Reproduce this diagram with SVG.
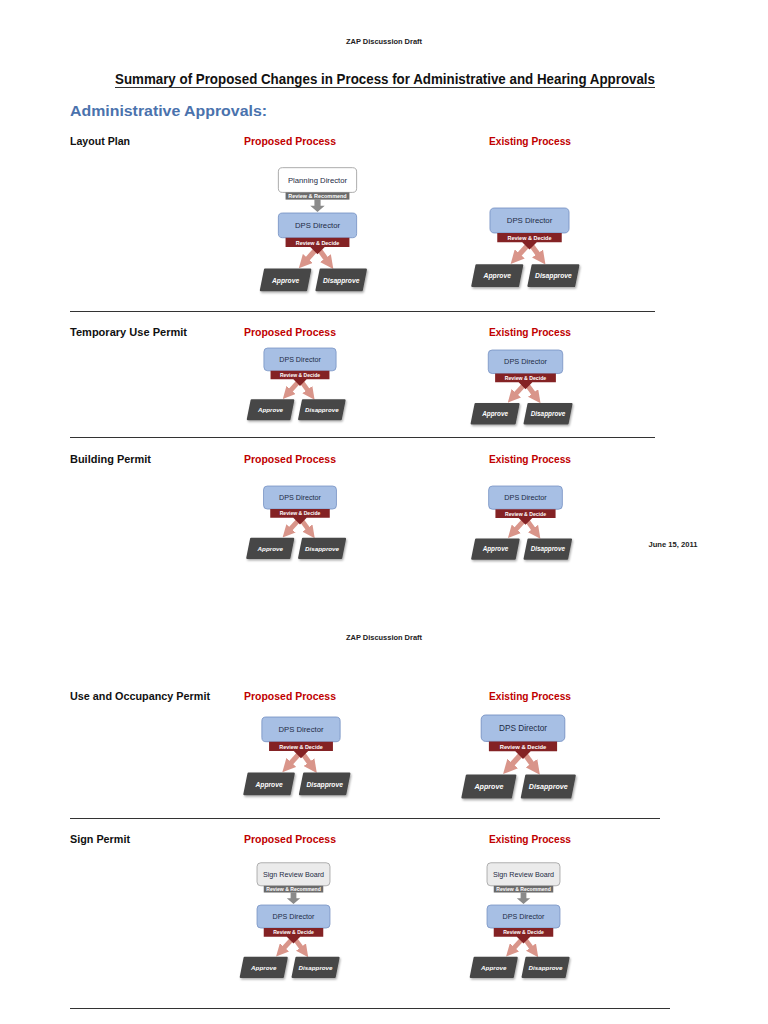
<svg xmlns="http://www.w3.org/2000/svg" width="768" height="1024" viewBox="0 0 768 1024">
<style>
.pg{font-family:"Liberation Sans",Arial,sans-serif}
.hdr{font-family:"Liberation Sans",Arial,sans-serif;font-size:7px;font-weight:bold;fill:#222;text-anchor:middle}
.title{font-family:"Liberation Sans",Arial,sans-serif;font-size:14px;font-weight:bold;fill:#111}
.sec{font-family:"Liberation Sans",Arial,sans-serif;font-size:14.5px;font-weight:bold;fill:#4a72ad}
.lbl{font-family:"Liberation Sans",Arial,sans-serif;font-size:11px;font-weight:bold;fill:#111}
.red{font-family:"Liberation Sans",Arial,sans-serif;font-size:11px;font-weight:bold;fill:#c00000}
.rule{stroke:#333;stroke-width:1}
.dps{fill:#a7bfe4;stroke:#7490c2;stroke-width:0.8}
.wbox{fill:#ffffff;stroke:#9a9a9a;stroke-width:0.8}
.sbox{fill:#ebebeb;stroke:#9a9a9a;stroke-width:0.8}
.rbar{fill:#842224}
.gbar{fill:#6b6b6b}
.garrow{fill:#8a8a8a}
.pink{stroke:#d9958a;stroke-width:5;fill:none}
.dk{fill:#474747;stroke:#474747;stroke-width:2;stroke-linejoin:round;filter:url(#sh)}
.nt{font-family:"Liberation Sans",Arial,sans-serif;font-size:7.5px;fill:#1d2b45;text-anchor:middle}
.bt{font-family:"Liberation Sans",Arial,sans-serif;font-size:5.3px;font-weight:bold;fill:#ffffff;text-anchor:middle}
.at{font-family:"Liberation Sans",Arial,sans-serif;font-size:6.5px;font-weight:bold;font-style:italic;fill:#ffffff;text-anchor:middle}
</style>
<defs>
<marker id="ph" viewBox="0 0 10 10" refX="3" refY="5" markerWidth="2.6" markerHeight="2.6" orient="auto"><path d="M0,0 L10,5 L0,10 Z" fill="#d9958a"/></marker>
<filter id="sh" x="-20%" y="-20%" width="150%" height="170%"><feDropShadow dx="1" dy="1.5" stdDeviation="1" flood-opacity="0.35"/></filter>
</defs>
<rect width="768" height="1024" fill="#ffffff"/>

<!-- page text -->
<text class="hdr" x="384" y="44" textLength="76" lengthAdjust="spacingAndGlyphs">ZAP Discussion Draft</text>
<text class="title" x="115" y="84" textLength="540" lengthAdjust="spacingAndGlyphs">Summary of Proposed Changes in Process for Administrative and Hearing Approvals</text>
<line class="rule" x1="115" y1="87.5" x2="655" y2="87.5"/>
<text class="sec" x="70" y="116" textLength="197" lengthAdjust="spacingAndGlyphs">Administrative Approvals:</text>

<text class="lbl" x="70" y="145" textLength="60" lengthAdjust="spacingAndGlyphs">Layout Plan</text>
<text class="red" x="244" y="145" textLength="92" lengthAdjust="spacingAndGlyphs">Proposed Process</text>
<text class="red" x="489" y="145" textLength="82" lengthAdjust="spacingAndGlyphs">Existing Process</text>
<line class="rule" x1="70" y1="311.5" x2="655" y2="311.5"/>

<text class="lbl" x="70" y="336" textLength="117" lengthAdjust="spacingAndGlyphs">Temporary Use Permit</text>
<text class="red" x="244" y="336" textLength="92" lengthAdjust="spacingAndGlyphs">Proposed Process</text>
<text class="red" x="489" y="336" textLength="82" lengthAdjust="spacingAndGlyphs">Existing Process</text>
<line class="rule" x1="70" y1="437.5" x2="655" y2="437.5"/>

<text class="lbl" x="70" y="463" textLength="81" lengthAdjust="spacingAndGlyphs">Building Permit</text>
<text class="red" x="244" y="463" textLength="92" lengthAdjust="spacingAndGlyphs">Proposed Process</text>
<text class="red" x="489" y="463" textLength="82" lengthAdjust="spacingAndGlyphs">Existing Process</text>
<text class="hdr" x="673" y="547" textLength="49" lengthAdjust="spacingAndGlyphs">June 15, 2011</text>

<text class="hdr" x="384" y="640" textLength="76" lengthAdjust="spacingAndGlyphs">ZAP Discussion Draft</text>

<text class="lbl" x="70" y="700" textLength="140" lengthAdjust="spacingAndGlyphs">Use and Occupancy Permit</text>
<text class="red" x="244" y="700" textLength="92" lengthAdjust="spacingAndGlyphs">Proposed Process</text>
<text class="red" x="489" y="700" textLength="82" lengthAdjust="spacingAndGlyphs">Existing Process</text>
<line class="rule" x1="70" y1="818.5" x2="660" y2="818.5"/>

<text class="lbl" x="70" y="843" textLength="60" lengthAdjust="spacingAndGlyphs">Sign Permit</text>
<text class="red" x="244" y="843" textLength="92" lengthAdjust="spacingAndGlyphs">Proposed Process</text>
<text class="red" x="489" y="843" textLength="82" lengthAdjust="spacingAndGlyphs">Existing Process</text>
<line class="rule" x1="70" y1="1008.5" x2="670" y2="1008.5"/>

<!-- A: Layout Plan proposed -->
<g id="layout-proposed" transform="translate(317.5,213) scale(1.03)">
  <g id="layout-proposed-connectors">
    <path class="garrow" d="M-3,-13 H3 V-7 H7 L0,-1 L-7,-7 H-3 Z"/>
    <line class="pink" x1="-2" y1="36" x2="-12" y2="47" marker-end="url(#ph)"/>
    <line class="pink" x1="2" y1="36" x2="10" y2="47" marker-end="url(#ph)"/>
  </g>
  <g id="layout-proposed-planning">
    <rect class="wbox" x="-38" y="-44" width="76" height="24" rx="4"/>
    <text class="nt" x="0" y="-29.5">Planning Director</text>
    <rect class="gbar" x="-31" y="-20" width="62" height="7"/>
    <text class="bt" x="0" y="-14.6">Review &amp; Recommend</text>
  </g>
  <g id="layout-proposed-dps">
    <rect class="dps" x="-38" y="0" width="76" height="24" rx="4"/>
    <text class="nt" x="0" y="14.5">DPS Director</text>
    <path class="rbar" d="M-31,24 H31 V33 H7 L0,40 L-7,33 H-31 Z"/>
    <text class="bt" x="0" y="30.6">Review &amp; Decide</text>
  </g>
  <g id="layout-proposed-approve"><path class="dk" d="M-51,55 H-7 L-11,75 H-55 Z"/><text class="at" x="-31" y="67.5">Approve</text></g>
  <g id="layout-proposed-disapprove"><path class="dk" d="M3,55 H47 L43,75 H-1 Z"/><text class="at" x="23" y="67.5">Disapprove</text></g>
</g>

<!-- B: Layout Plan existing -->
<g id="layout-existing" transform="translate(529.5,208) scale(1.04)">
  <g id="layout-existing-connectors">
    <line class="pink" x1="-2" y1="36" x2="-12" y2="47" marker-end="url(#ph)"/>
    <line class="pink" x1="2" y1="36" x2="10" y2="47" marker-end="url(#ph)"/>
  </g>
  <g id="layout-existing-dps">
    <rect class="dps" x="-38" y="0" width="76" height="24" rx="4"/>
    <text class="nt" x="0" y="14.5">DPS Director</text>
    <path class="rbar" d="M-31,24 H31 V33 H7 L0,40 L-7,33 H-31 Z"/>
    <text class="bt" x="0" y="30.6">Review &amp; Decide</text>
  </g>
  <g id="layout-existing-approve"><path class="dk" d="M-51,55 H-7 L-11,75 H-55 Z"/><text class="at" x="-31" y="67.5">Approve</text></g>
  <g id="layout-existing-disapprove"><path class="dk" d="M3,55 H47 L43,75 H-1 Z"/><text class="at" x="23" y="67.5">Disapprove</text></g>
</g>

<!-- C: Temporary Use proposed -->
<g id="tup-proposed" transform="translate(300,348) scale(0.95)">
  <g id="tup-proposed-connectors">
    <line class="pink" x1="-2" y1="36" x2="-12" y2="47" marker-end="url(#ph)"/>
    <line class="pink" x1="2" y1="36" x2="10" y2="47" marker-end="url(#ph)"/>
  </g>
  <g id="tup-proposed-dps">
    <rect class="dps" x="-38" y="0" width="76" height="24" rx="4"/>
    <text class="nt" x="0" y="14.5">DPS Director</text>
    <path class="rbar" d="M-31,24 H31 V33 H7 L0,40 L-7,33 H-31 Z"/>
    <text class="bt" x="0" y="30.6">Review &amp; Decide</text>
  </g>
  <g id="tup-proposed-approve"><path class="dk" d="M-51,55 H-7 L-11,75 H-55 Z"/><text class="at" x="-31" y="67.5">Approve</text></g>
  <g id="tup-proposed-disapprove"><path class="dk" d="M3,55 H47 L43,75 H-1 Z"/><text class="at" x="23" y="67.5">Disapprove</text></g>
</g>

<!-- D: Temporary Use existing -->
<g id="tup-existing" transform="translate(525.5,350) scale(0.98)">
  <g id="tup-existing-connectors">
    <line class="pink" x1="-2" y1="36" x2="-12" y2="47" marker-end="url(#ph)"/>
    <line class="pink" x1="2" y1="36" x2="10" y2="47" marker-end="url(#ph)"/>
  </g>
  <g id="tup-existing-dps">
    <rect class="dps" x="-38" y="0" width="76" height="24" rx="4"/>
    <text class="nt" x="0" y="14.5">DPS Director</text>
    <path class="rbar" d="M-31,24 H31 V33 H7 L0,40 L-7,33 H-31 Z"/>
    <text class="bt" x="0" y="30.6">Review &amp; Decide</text>
  </g>
  <g id="tup-existing-approve"><path class="dk" d="M-51,55 H-7 L-11,75 H-55 Z"/><text class="at" x="-31" y="67.5">Approve</text></g>
  <g id="tup-existing-disapprove"><path class="dk" d="M3,55 H47 L43,75 H-1 Z"/><text class="at" x="23" y="67.5">Disapprove</text></g>
</g>

<!-- E: Building proposed -->
<g id="bp-proposed" transform="translate(300,486) scale(0.96)">
  <g id="bp-proposed-connectors">
    <line class="pink" x1="-2" y1="36" x2="-12" y2="47" marker-end="url(#ph)"/>
    <line class="pink" x1="2" y1="36" x2="10" y2="47" marker-end="url(#ph)"/>
  </g>
  <g id="bp-proposed-dps">
    <rect class="dps" x="-38" y="0" width="76" height="24" rx="4"/>
    <text class="nt" x="0" y="14.5">DPS Director</text>
    <path class="rbar" d="M-31,24 H31 V33 H7 L0,40 L-7,33 H-31 Z"/>
    <text class="bt" x="0" y="30.6">Review &amp; Decide</text>
  </g>
  <g id="bp-proposed-approve"><path class="dk" d="M-51,55 H-7 L-11,75 H-55 Z"/><text class="at" x="-31" y="67.5">Approve</text></g>
  <g id="bp-proposed-disapprove"><path class="dk" d="M3,55 H47 L43,75 H-1 Z"/><text class="at" x="23" y="67.5">Disapprove</text></g>
</g>

<!-- F: Building existing -->
<g id="bp-existing" transform="translate(525.5,486) scale(0.97)">
  <g id="bp-existing-connectors">
    <line class="pink" x1="-2" y1="36" x2="-12" y2="47" marker-end="url(#ph)"/>
    <line class="pink" x1="2" y1="36" x2="10" y2="47" marker-end="url(#ph)"/>
  </g>
  <g id="bp-existing-dps">
    <rect class="dps" x="-38" y="0" width="76" height="24" rx="4"/>
    <text class="nt" x="0" y="14.5">DPS Director</text>
    <path class="rbar" d="M-31,24 H31 V33 H7 L0,40 L-7,33 H-31 Z"/>
    <text class="bt" x="0" y="30.6">Review &amp; Decide</text>
  </g>
  <g id="bp-existing-approve"><path class="dk" d="M-51,55 H-7 L-11,75 H-55 Z"/><text class="at" x="-31" y="67.5">Approve</text></g>
  <g id="bp-existing-disapprove"><path class="dk" d="M3,55 H47 L43,75 H-1 Z"/><text class="at" x="23" y="67.5">Disapprove</text></g>
</g>

<!-- G: Use and Occupancy proposed -->
<g id="uo-proposed" transform="translate(301,717) scale(1.03)">
  <g id="uo-proposed-connectors">
    <line class="pink" x1="-2" y1="36" x2="-12" y2="47" marker-end="url(#ph)"/>
    <line class="pink" x1="2" y1="36" x2="10" y2="47" marker-end="url(#ph)"/>
  </g>
  <g id="uo-proposed-dps">
    <rect class="dps" x="-38" y="0" width="76" height="24" rx="4"/>
    <text class="nt" x="0" y="14.5">DPS Director</text>
    <path class="rbar" d="M-31,24 H31 V33 H7 L0,40 L-7,33 H-31 Z"/>
    <text class="bt" x="0" y="30.6">Review &amp; Decide</text>
  </g>
  <g id="uo-proposed-approve"><path class="dk" d="M-51,55 H-7 L-11,75 H-55 Z"/><text class="at" x="-31" y="67.5">Approve</text></g>
  <g id="uo-proposed-disapprove"><path class="dk" d="M3,55 H47 L43,75 H-1 Z"/><text class="at" x="23" y="67.5">Disapprove</text></g>
</g>

<!-- H: Use and Occupancy existing -->
<g id="uo-existing" transform="translate(523,715) scale(1.1)">
  <g id="uo-existing-connectors">
    <line class="pink" x1="-2" y1="36" x2="-12" y2="47" marker-end="url(#ph)"/>
    <line class="pink" x1="2" y1="36" x2="10" y2="47" marker-end="url(#ph)"/>
  </g>
  <g id="uo-existing-dps">
    <rect class="dps" x="-38" y="0" width="76" height="24" rx="4"/>
    <text class="nt" x="0" y="14.5">DPS Director</text>
    <path class="rbar" d="M-31,24 H31 V33 H7 L0,40 L-7,33 H-31 Z"/>
    <text class="bt" x="0" y="30.6">Review &amp; Decide</text>
  </g>
  <g id="uo-existing-approve"><path class="dk" d="M-51,55 H-7 L-11,75 H-55 Z"/><text class="at" x="-31" y="67.5">Approve</text></g>
  <g id="uo-existing-disapprove"><path class="dk" d="M3,55 H47 L43,75 H-1 Z"/><text class="at" x="23" y="67.5">Disapprove</text></g>
</g>

<!-- I: Sign proposed -->
<g id="sign-proposed" transform="translate(293.5,905) scale(0.96)">
  <g id="sign-proposed-connectors">
    <path class="garrow" d="M-3,-13 H3 V-7 H7 L0,-1 L-7,-7 H-3 Z"/>
    <line class="pink" x1="-2" y1="36" x2="-12" y2="47" marker-end="url(#ph)"/>
    <line class="pink" x1="2" y1="36" x2="10" y2="47" marker-end="url(#ph)"/>
  </g>
  <g id="sign-proposed-board">
    <rect class="sbox" x="-38" y="-44" width="76" height="24" rx="4"/>
    <text class="nt" x="0" y="-29.5">Sign Review Board</text>
    <rect class="gbar" x="-31" y="-20" width="62" height="7"/>
    <text class="bt" x="0" y="-14.6">Review &amp; Recommend</text>
  </g>
  <g id="sign-proposed-dps">
    <rect class="dps" x="-38" y="0" width="76" height="24" rx="4"/>
    <text class="nt" x="0" y="14.5">DPS Director</text>
    <path class="rbar" d="M-31,24 H31 V33 H7 L0,40 L-7,33 H-31 Z"/>
    <text class="bt" x="0" y="30.6">Review &amp; Decide</text>
  </g>
  <g id="sign-proposed-approve"><path class="dk" d="M-51,55 H-7 L-11,75 H-55 Z"/><text class="at" x="-31" y="67.5">Approve</text></g>
  <g id="sign-proposed-disapprove"><path class="dk" d="M3,55 H47 L43,75 H-1 Z"/><text class="at" x="23" y="67.5">Disapprove</text></g>
</g>

<!-- J: Sign existing -->
<g id="sign-existing" transform="translate(523.5,905) scale(0.96)">
  <g id="sign-existing-connectors">
    <path class="garrow" d="M-3,-13 H3 V-7 H7 L0,-1 L-7,-7 H-3 Z"/>
    <line class="pink" x1="-2" y1="36" x2="-12" y2="47" marker-end="url(#ph)"/>
    <line class="pink" x1="2" y1="36" x2="10" y2="47" marker-end="url(#ph)"/>
  </g>
  <g id="sign-existing-board">
    <rect class="sbox" x="-38" y="-44" width="76" height="24" rx="4"/>
    <text class="nt" x="0" y="-29.5">Sign Review Board</text>
    <rect class="gbar" x="-31" y="-20" width="62" height="7"/>
    <text class="bt" x="0" y="-14.6">Review &amp; Recommend</text>
  </g>
  <g id="sign-existing-dps">
    <rect class="dps" x="-38" y="0" width="76" height="24" rx="4"/>
    <text class="nt" x="0" y="14.5">DPS Director</text>
    <path class="rbar" d="M-31,24 H31 V33 H7 L0,40 L-7,33 H-31 Z"/>
    <text class="bt" x="0" y="30.6">Review &amp; Decide</text>
  </g>
  <g id="sign-existing-approve"><path class="dk" d="M-51,55 H-7 L-11,75 H-55 Z"/><text class="at" x="-31" y="67.5">Approve</text></g>
  <g id="sign-existing-disapprove"><path class="dk" d="M3,55 H47 L43,75 H-1 Z"/><text class="at" x="23" y="67.5">Disapprove</text></g>
</g>
</svg>
